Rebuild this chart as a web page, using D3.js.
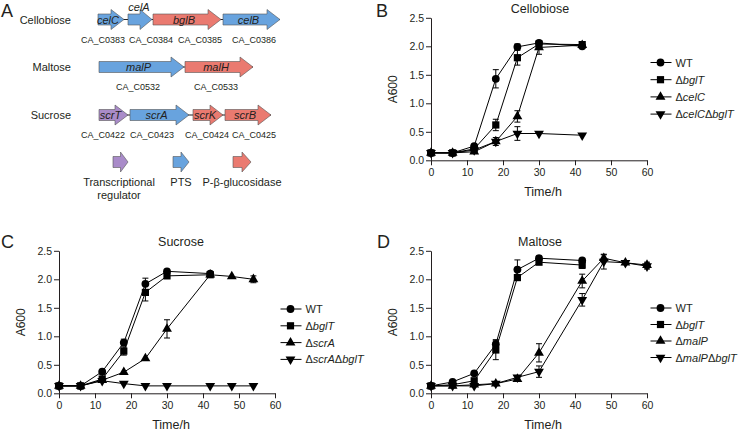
<!DOCTYPE html>
<html>
<head>
<meta charset="utf-8">
<script src="https://cdn.jsdelivr.net/npm/d3@7"></script>
<style>
  body { margin: 0; background: #fff; }
  text { font-family: "Liberation Sans", Arial, sans-serif; fill: #231f20; }
</style>
</head>
<body>
<svg id="fig" width="738" height="431"></svg>
<script>
// ---- panel A : operons ----
var geneColors = { reg: "#a98bc9", pts: "#68a3de", bgl: "#ea7a70" };

var cellobioseGenes = [
  { name: "celC", locus: "CA_C0383", type: "pts", start: 98, end: 124, lx: 103 },
  { name: "celA", locus: "CA_C0384", type: "pts", start: 128, end: 152, lx: 151, above: true },
  { name: "bglB", locus: "CA_C0385", type: "bgl", start: 153, end: 221, lx: 200 },
  { name: "celB", locus: "CA_C0386", type: "pts", start: 223, end: 280, lx: 254 }
];
var maltoseGenes = [
  { name: "malP", locus: "CA_C0532", type: "pts", start: 99, end: 184, lx: 138 },
  { name: "malH", locus: "CA_C0533", type: "bgl", start: 185, end: 253, lx: 216 }
];
var sucroseGenes = [
  { name: "scrT", locus: "CA_C0422", type: "reg", start: 99, end: 128, lx: 103 },
  { name: "scrA", locus: "CA_C0423", type: "pts", start: 130, end: 189, lx: 152 },
  { name: "scrK", locus: "CA_C0424", type: "bgl", start: 193, end: 223, lx: 207 },
  { name: "scrB", locus: "CA_C0425", type: "bgl", start: 225, end: 271, lx: 254 }
];
var operonRows = [
  { label: "Cellobiose", genes: cellobioseGenes, cy: 19.5 },
  { label: "Maltose", genes: maltoseGenes, cy: 67 },
  { label: "Sucrose", genes: sucroseGenes, cy: 115 }
];
var keyItems = [
  { type: "reg", text: ["Transcriptional", "regulator"], start: 113, end: 128, tx: 119 },
  { type: "pts", text: ["PTS"], start: 173, end: 189, tx: 181 },
  { type: "bgl", text: ["P-\u03b2-glucosidase"], start: 233, end: 251, tx: 242 }
];

// ---- growth curves ----
var cbTimes = [0, 6, 12, 18, 24, 30, 42];
var cbWT     = [0.13, 0.13, 0.25, 1.43, 1.99, 2.06, 2.00];
var cbWTErr  = [0.02, 0.02, 0.03, 0.16, 0.05, 0.04, 0.03];
var cbBglT   = [0.13, 0.13, 0.20, 0.62, 1.80, 2.04, 2.03];
var cbBglTErr= [0.02, 0.02, 0.02, 0.10, 0.13, 0.04, 0.03];
var cbCelC   = [0.13, 0.13, 0.15, 0.33, 0.77, 1.98, 2.02];
var cbCelCErr= [0.02, 0.02, 0.02, 0.04, 0.10, 0.12, 0.03];
var cbDbl    = [0.13, 0.13, 0.18, 0.33, 0.47, 0.47, 0.44];
var cbDblErr = [0.02, 0.02, 0.02, 0.07, 0.12, 0.04, 0.02];

var suTimes = [0, 6, 12, 18, 24, 30, 42, 48, 54];
var suWT     = [0.13, 0.13, 0.38, 0.89, 1.92, 2.14, 2.10];
var suWTErr  = [0.02, 0.02, 0.03, 0.06, 0.10, 0.03, 0.04];
var suBglT   = [0.13, 0.13, 0.25, 0.74, 1.77, 2.06, 2.08];
var suBglTErr= [0.02, 0.02, 0.03, 0.07, 0.15, 0.03, 0.04];
var suScrA   = [0.13, 0.13, 0.23, 0.37, 0.61, 1.13, 2.08, 2.05, 2.00];
var suScrAErr= [0.02, 0.02, 0.02, 0.03, 0.03, 0.16, 0.04, 0.03, 0.06];
var suDbl    = [0.13, 0.13, 0.22, 0.17, 0.13, 0.13, 0.13, 0.13, 0.13];
var suDblErr = [0.02, 0.02, 0.02, 0.02, 0.02, 0.02, 0.02, 0.02, 0.02];

var maTimes = [0, 6, 12, 18, 24, 30, 42, 48, 54, 60];
var maWT     = [0.13, 0.20, 0.35, 0.86, 2.17, 2.37, 2.33];
var maWTErr  = [0.02, 0.02, 0.03, 0.08, 0.17, 0.03, 0.04];
var maBglT   = [0.13, 0.15, 0.22, 0.76, 2.03, 2.30, 2.25];
var maBglTErr= [0.02, 0.02, 0.03, 0.17, 0.04, 0.03, 0.06];
var maMalP   = [0.13, 0.13, 0.15, 0.17, 0.25, 0.71, 1.97, 2.37, 2.29, 2.25];
var maMalPErr= [0.02, 0.02, 0.02, 0.02, 0.03, 0.16, 0.12, 0.06, 0.04, 0.05];
var maDbl    = [0.13, 0.13, 0.13, 0.17, 0.28, 0.38, 1.64, 2.31, 2.29, 2.23];
var maDblErr = [0.02, 0.02, 0.02, 0.02, 0.04, 0.10, 0.11, 0.13, 0.04, 0.05];

var yTicks = [0, 0.5, 1.0, 1.5, 2.0, 2.5];
var xTicks = [0, 10, 20, 30, 40, 50, 60];

var svg = d3.select("#fig");

// panel letters
[["A", 1, 17], ["B", 376, 17], ["C", 1, 248], ["D", 377, 248]].forEach(function(p) {
  svg.append("text").attr("x", p[1]).attr("y", p[2]).attr("font-size", 18).text(p[0]);
});

function arrowPath(x0, x1, cy) {
  var hl = Math.min(13, (x1 - x0) * 0.5), bh = 5.5, hh = 10;
  return "M" + x0 + "," + (cy - bh) + "L" + (x1 - hl) + "," + (cy - bh) +
    "L" + (x1 - hl) + "," + (cy - hh) + "L" + x1 + "," + cy +
    "L" + (x1 - hl) + "," + (cy + hh) + "L" + (x1 - hl) + "," + (cy + bh) +
    "L" + x0 + "," + (cy + bh) + "Z";
}

var gA = svg.append("g");
operonRows.forEach(function(row) {
  gA.append("text").attr("x", 71).attr("y", row.cy + 4).attr("text-anchor", "end")
    .attr("font-size", 11).text(row.label);
  gA.append("line")
    .attr("x1", row.genes[0].start).attr("x2", row.genes[row.genes.length - 1].end)
    .attr("y1", row.cy).attr("y2", row.cy).attr("stroke", "#231f20").attr("stroke-width", 1);
  var gg = gA.selectAll(null).data(row.genes).enter().append("g");
  gg.append("path").attr("d", function(d) { return arrowPath(d.start, d.end, row.cy); })
    .attr("fill", function(d) { return geneColors[d.type]; })
    .attr("stroke", "#555").attr("stroke-width", 0.6);
  gg.append("text")
    .attr("x", function(d) { return d.above ? (d.start + d.end) / 2 - 1 : (d.start + d.end) / 2 - 3; })
    .attr("y", function(d) { return d.above ? row.cy - 9 : row.cy + 4; })
    .attr("text-anchor", "middle").attr("font-size", 11).attr("font-style", "italic")
    .text(function(d) { return d.name; });
  gg.append("text").attr("x", function(d) { return d.lx; }).attr("y", row.cy + 23)
    .attr("text-anchor", "middle").attr("font-size", 9)
    .text(function(d) { return d.locus; });
});
keyItems.forEach(function(k) {
  gA.append("path").attr("d", arrowPath(k.start, k.end, 162))
    .attr("fill", geneColors[k.type]).attr("stroke", "#555").attr("stroke-width", 0.6);
  k.text.forEach(function(t, i) {
    gA.append("text").attr("x", k.tx).attr("y", 186 + i * 13).attr("text-anchor", "middle")
      .attr("font-size", 11).text(t);
  });
});

// ---- growth panels ----
var symbols = {
  circle: d3.symbol().type(d3.symbolCircle).size(48)(),
  square: d3.symbol().type(d3.symbolSquare).size(52)(),
  tri: d3.symbol().type(d3.symbolTriangle).size(42)()
};

function marker(g, kind, x, y) {
  var p = g.append("path").attr("fill", "#000")
    .attr("d", kind == "triDown" ? symbols.tri : symbols[kind]);
  if (kind == "triDown") p.attr("transform", "translate(" + x + "," + y + ") rotate(180)");
  else p.attr("transform", "translate(" + x + "," + y + ")");
}

function legendLabel(t, parts) {
  parts.forEach(function(p) {
    t.append("tspan").attr("font-style", p[1] ? "italic" : "normal").text(p[0]);
  });
}

function growthPanel(cfg) {
  var g = svg.append("g");
  var x = d3.scaleLinear().domain([0, 60]).range([cfg.left, cfg.left + 216]);
  var y = d3.scaleLinear().domain([0, 2.5]).range([cfg.bottom, cfg.bottom - 142.5]);

  var ax = g.append("g").attr("transform", "translate(0," + cfg.bottom + ")")
    .call(d3.axisBottom(x).tickValues(xTicks).tickSize(5).tickSizeOuter(0));
  var ay = g.append("g").attr("transform", "translate(" + cfg.left + ",0)")
    .call(d3.axisLeft(y).tickValues(yTicks).tickFormat(d3.format(".1f")).tickSize(5).tickSizeOuter(0));
  [ax, ay].forEach(function(a) {
    a.select(".domain").attr("stroke", "#231f20").attr("stroke-width", 1);
    a.selectAll(".tick line").attr("stroke", "#231f20").attr("stroke-width", 1);
    a.selectAll(".tick text").attr("font-size", 10.5).attr("fill", "#231f20")
      .attr("font-family", "'Liberation Sans', Arial, sans-serif");
  });
  ay.selectAll(".tick text").attr("x", -7);
  ax.selectAll(".tick text").attr("y", 8);

  g.append("text").attr("x", cfg.titleX).attr("y", cfg.bottom - 147).attr("text-anchor", "middle")
    .attr("font-size", 12.5).text(cfg.title);
  g.append("text").attr("x", cfg.left + 112).attr("y", cfg.bottom + 36).attr("text-anchor", "middle")
    .attr("font-size", 12.5).text("Time/h");
  g.append("text").attr("transform", "translate(" + (cfg.left - 34) + "," + (cfg.bottom - 71) + ") rotate(-90)")
    .attr("text-anchor", "middle").attr("font-size", 12).text("A600");

  var line = d3.line().x(function(d) { return x(d.t); }).y(function(d) { return y(d.v); });

  cfg.series.forEach(function(s) {
    var pts = s.values.map(function(v, i) { return { t: cfg.times[i], v: v, e: s.err[i] }; });
    g.append("path").datum(pts).attr("d", line).attr("fill", "none")
      .attr("stroke", "#000").attr("stroke-width", 1);
    pts.forEach(function(p) {
      if (y(p.v - p.e) - y(p.v + p.e) > 5) {
        var px = x(p.t);
        g.append("path")
          .attr("d", "M" + (px - 3) + "," + y(p.v + p.e) + "H" + (px + 3) +
            "M" + px + "," + y(p.v + p.e) + "V" + y(p.v - p.e) +
            "M" + (px - 3) + "," + y(p.v - p.e) + "H" + (px + 3))
          .attr("stroke", "#000").attr("stroke-width", 1).attr("fill", "none");
      }
      marker(g, s.marker, x(p.t), y(p.v));
    });
  });

  cfg.series.forEach(function(s, i) {
    var ly = cfg.legendY + i * cfg.legendStep;
    g.append("line").attr("x1", cfg.legendX - 10).attr("x2", cfg.legendX + 11)
      .attr("y1", ly).attr("y2", ly).attr("stroke", "#000").attr("stroke-width", 1);
    marker(g, s.marker, cfg.legendX, ly);
    var t = g.append("text").attr("x", cfg.legendX + 15).attr("y", ly + 4).attr("font-size", 11);
    legendLabel(t, s.label);
  });
}

growthPanel({
  title: "Cellobiose", titleX: 540, left: 431, bottom: 160.3, times: cbTimes,
  legendX: 660.5, legendY: 62.5, legendStep: 17.2,
  series: [
    { values: cbWT, err: cbWTErr, marker: "circle", label: [["WT", false]] },
    { values: cbBglT, err: cbBglTErr, marker: "square", label: [["\u0394", false], ["bglT", true]] },
    { values: cbCelC, err: cbCelCErr, marker: "tri", label: [["\u0394", false], ["celC", true]] },
    { values: cbDbl, err: cbDblErr, marker: "triDown", label: [["\u0394", false], ["celC", true], ["\u0394", false], ["bglT", true]] }
  ]
});

growthPanel({
  title: "Sucrose", titleX: 181, left: 59, bottom: 393.3, times: suTimes,
  legendX: 290.5, legendY: 309, legendStep: 16.8,
  series: [
    { values: suWT, err: suWTErr, marker: "circle", label: [["WT", false]] },
    { values: suBglT, err: suBglTErr, marker: "square", label: [["\u0394", false], ["bglT", true]] },
    { values: suScrA, err: suScrAErr, marker: "tri", label: [["\u0394", false], ["scrA", true]] },
    { values: suDbl, err: suDblErr, marker: "triDown", label: [["\u0394", false], ["scrA", true], ["\u0394", false], ["bglT", true]] }
  ]
});

growthPanel({
  title: "Maltose", titleX: 540, left: 431, bottom: 393.3, times: maTimes,
  legendX: 660.5, legendY: 308, legendStep: 16.5,
  series: [
    { values: maWT, err: maWTErr, marker: "circle", label: [["WT", false]] },
    { values: maBglT, err: maBglTErr, marker: "square", label: [["\u0394", false], ["bglT", true]] },
    { values: maMalP, err: maMalPErr, marker: "tri", label: [["\u0394", false], ["malP", true]] },
    { values: maDbl, err: maDblErr, marker: "triDown", label: [["\u0394", false], ["malP", true], ["\u0394", false], ["bglT", true]] }
  ]
});
</script>
</body>
</html>
